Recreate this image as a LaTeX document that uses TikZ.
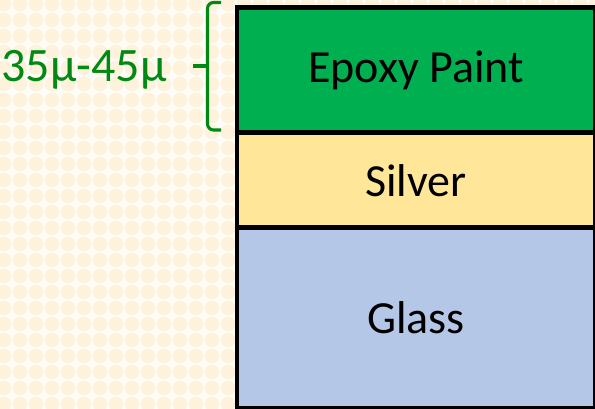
\documentclass[tikz,border=0pt]{standalone}
\usepackage{fontspec}
\setmainfont{Carlito}
\definecolor{bgbase}{HTML}{FFFDF8}
\definecolor{bgdot}{HTML}{FFF2DC}
\definecolor{epoxy}{HTML}{00B050}
\definecolor{silver}{HTML}{FFE699}
\definecolor{glass}{HTML}{B4C7E7}
\definecolor{darkgreen}{RGB}{0,138,20}
\tikzset{
  layer/.style={draw=black, line width=3.4pt, anchor=north west, inner sep=0pt, font=\fontsize{34.5}{40}\selectfont},
  brace/.style={draw=darkgreen, line width=2.3pt, rounded corners=4.5pt},
}
\begin{document}
\begin{tikzpicture}[x=0.75pt,y=-0.75pt]
\useasboundingbox (0,0) rectangle (595,409);
\fill[bgbase] (0,0) rectangle (595,409);
\foreach \i in {0,...,37}{
  \foreach \j in {0,...,26}{
    \fill[bgdot] (\i*16+4,\j*16+4) circle (7.4);
  }
}
% layers
\node[layer, fill=epoxy, minimum width=358.5*0.75pt, minimum height=125.5*0.75pt] (epoxy) at (234.5,5) {Epoxy Paint};
\node[layer, fill=silver, minimum width=358.5*0.75pt, minimum height=95*0.75pt] (silver) at (234.5,130.5) {Silver};
\node[layer, fill=glass, minimum width=358.5*0.75pt, minimum height=180*0.75pt] (glass) at (234.5,225.5) {Glass};
% brace
\coordinate (bt) at (221,2.5);
\coordinate (bb) at (221,130);
\coordinate (bm) at (207.5,66);
\coordinate (btip) at (193,66);
\draw[brace] (bt) -- (207.5,2.5) -- (207.5,130) -- (bb);
\draw[draw=darkgreen, line width=2.3pt] (btip) -- (bm);
\node[text=darkgreen, font=\fontsize{36}{40}\selectfont, inner sep=0pt] (thick) at (84,70) {35µ-45µ};
\end{tikzpicture}
\end{document}
